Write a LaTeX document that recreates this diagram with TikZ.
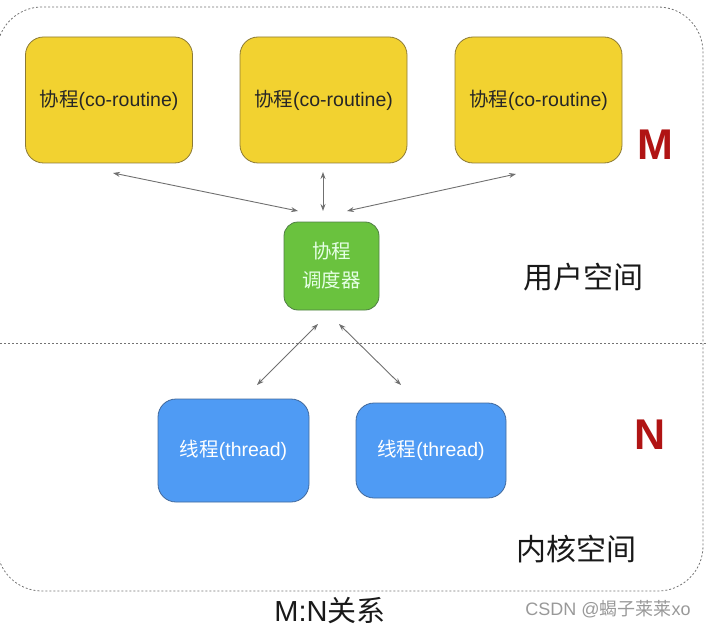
\documentclass[tikz,border=0pt]{standalone}
\usepackage{fontspec}
\setmainfont{Liberation Sans}
\newfontfamily\cjk{Noto Sans CJK SC}
\usetikzlibrary{arrows.meta}
\definecolor{yel}{HTML}{F2D230}
\definecolor{yelb}{HTML}{8C7A35}
\definecolor{grn}{HTML}{6AC23E}
\definecolor{grnb}{HTML}{4F7F45}
\definecolor{blu}{HTML}{4F9BF4}
\definecolor{blub}{HTML}{41699C}
\definecolor{mred}{HTML}{B01414}
\definecolor{arr}{HTML}{707070}
\tikzset{
  ybox/.style={draw=yelb, fill=yel, line width=0.8pt, rounded corners=18pt, minimum width=167pt, minimum height=126pt, inner sep=0pt, font=\fontsize{19.5}{22}\selectfont, text=black!85},
  gbox/.style={draw=grnb, fill=grn, line width=0.8pt, rounded corners=14pt, minimum width=95pt, minimum height=88pt, inner sep=0pt, font=\cjk\fontsize{19.5}{29}\selectfont, text=white!90!green, align=center},
  bbox/.style={draw=blub, fill=blu, line width=0.8pt, rounded corners=18pt, minimum width=151pt, inner sep=0pt, font=\fontsize{19.5}{22}\selectfont, text=white},
  dline/.style={draw=black!55, line width=0.8pt, dash pattern=on 2pt off 2pt},
  conn/.style={draw=arr, line width=0.9pt, {Stealth[length=7pt,width=5pt]}-{Stealth[length=7pt,width=5pt]}},
  lbl/.style={font=\cjk\fontsize{30}{34}\selectfont, text=black!90, inner sep=0pt},
  big/.style={font=\fontsize{43}{46}\selectfont\bfseries, text=mred, inner sep=0pt}
}
\begin{document}
\begin{tikzpicture}[x=1pt,y=-1pt]
\useasboundingbox (0,0) rectangle (708,628);
\draw[dline, rounded corners=45pt] (-3,7) rectangle (703,591);
\draw[dline] (0,343) -- (708,343);

\node[ybox] (y1) at (109,100) {{\cjk 协程}(co-routine)};
\node[ybox] (y2) at (323.5,100) {{\cjk 协程}(co-routine)};
\node[ybox] (y3) at (538.5,100) {{\cjk 协程}(co-routine)};
\node[big] (m) at (655,145) {M};

\node[gbox] (s) at (331.5,266) {协程\\调度器};

\node[bbox, minimum height=103pt] (t1) at (233.5,450.5) {{\cjk 线程}(thread)};
\node[bbox, minimum height=95pt, minimum width=150pt] (t2) at (431,450.5) {{\cjk 线程}(thread)};
\node[big] (n) at (650,435) {N};

\node[lbl] (us) at (583,277) {用户空间};
\node[lbl] (ks) at (576,549) {内核空间};
\node[font=\fontsize{29}{32}\selectfont, text=black!90, inner sep=0pt] (mn) at (330,611) {M:N{\cjk 关系}};
\node[font=\fontsize{18}{20}\selectfont, text=black!40, inner sep=0pt] (wm) at (608,609) {CSDN @{\cjk 蝎子莱莱}xo};

\coordinate (a1) at (113,173);
\coordinate (b1) at (298,211);
\coordinate (a2) at (323,172);
\coordinate (b2) at (323,211);
\coordinate (a3) at (516,174);
\coordinate (b3) at (347,211);
\coordinate (c1) at (318,324);
\coordinate (d1) at (257,385);
\coordinate (c2) at (339,324);
\coordinate (d2) at (401,385);
\draw[conn] (a1) -- (b1);
\draw[conn] (a2) -- (b2);
\draw[conn] (a3) -- (b3);
\draw[conn] (c1) -- (d1);
\draw[conn] (c2) -- (d2);
\end{tikzpicture}
\end{document}
